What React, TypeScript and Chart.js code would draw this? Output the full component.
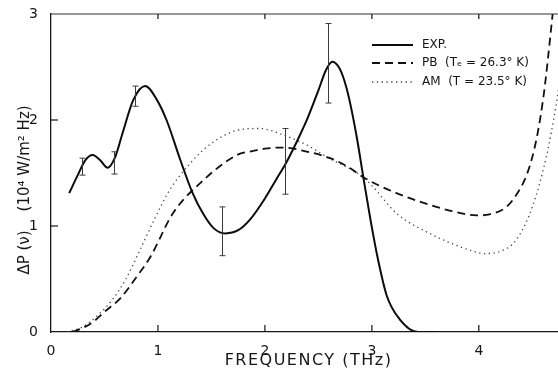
import React, { useEffect, useRef } from "react";
import { Chart, registerables } from "chart.js";

Chart.register(...registerables);

// ---- data ----
const xTickValues = [0, 1, 2, 3, 4];
const yTickValues = [0, 1, 2, 3];

const expX = [0.17, 0.25, 0.32, 0.39, 0.46, 0.53, 0.6, 0.67, 0.77, 0.88, 0.99, 1.08, 1.21, 1.32, 1.42, 1.52, 1.63, 1.75, 1.86, 2.0, 2.1, 2.2, 2.3, 2.4, 2.5, 2.57, 2.63, 2.69, 2.74, 2.79, 2.86, 2.92, 2.98, 3.05, 3.14, 3.26, 3.43, 3.6];
const expY = [1.31, 1.48, 1.62, 1.67, 1.62, 1.55, 1.65, 1.88, 2.19, 2.32, 2.19, 2.0, 1.62, 1.32, 1.12, 0.98, 0.93, 0.96, 1.06, 1.26, 1.43, 1.6, 1.8, 2.02, 2.28, 2.47, 2.55, 2.5, 2.38, 2.19, 1.83, 1.46, 1.1, 0.72, 0.34, 0.12, 0.0, 0.0];

const pbX = [0.2, 0.3, 0.4, 0.5, 0.65, 0.8, 0.93, 1.14, 1.39, 1.74, 1.9, 2.0, 2.17, 2.4, 2.61, 2.79, 2.92, 3.23, 3.54, 3.75, 3.98, 4.1, 4.32, 4.5, 4.6, 4.69, 4.74];
const pbY = [0.0, 0.04, 0.1, 0.19, 0.32, 0.52, 0.71, 1.12, 1.4, 1.67, 1.71, 1.73, 1.74, 1.7, 1.64, 1.55, 1.46, 1.31, 1.2, 1.14, 1.1, 1.11, 1.25, 1.65, 2.19, 3.0, 3.5];

const amX = [0.15, 0.3, 0.45, 0.57, 0.7, 0.83, 0.97, 1.11, 1.3, 1.5, 1.77, 1.95, 2.17, 2.4, 2.58, 2.92, 3.01, 3.23, 3.54, 3.92, 4.05, 4.2, 4.35, 4.5, 4.63, 4.73, 4.8];
const amY = [0.0, 0.05, 0.17, 0.3, 0.5, 0.77, 1.07, 1.34, 1.59, 1.78, 1.91, 1.92, 1.86, 1.76, 1.65, 1.46, 1.37, 1.12, 0.93, 0.77, 0.74, 0.76, 0.87, 1.18, 1.65, 2.19, 2.7];

const errX = [0.29, 0.59, 0.785, 1.6, 2.19, 2.59];
const errLow = [1.48, 1.49, 2.13, 0.72, 1.3, 2.16];
const errHigh = [1.64, 1.7, 2.32, 1.18, 1.92, 2.91];

const seriesLabels = ["EXP.", "PB  (Tₑ = 26.3° K)", "AM  (T = 23.5° K)"];
const xTitle = "FREQUENCY (THz)";
const yTitle = "ΔP (ν)    (10⁴ W/m² Hz)";

const FONT = "'DejaVu Sans', 'Liberation Sans', sans-serif";
const INK = "#161616";

const toPoints = (xs: number[], ys: number[]) => xs.map((x, i) => ({ x, y: ys[i] }));

const framePlugin = {
  id: "frameAndExtras",
  afterDatasetsDraw(chart: any) {
    const { ctx, chartArea, scales } = chart;
    const xs = scales.x;
    const ys = scales.y;
    ctx.save();
    // error bars
    ctx.strokeStyle = "#3a3a3a";
    ctx.lineWidth = 1;
    for (let i = 0; i < errX.length; i++) {
      const px = Math.round(xs.getPixelForValue(errX[i])) + 0.5;
      const pLo = ys.getPixelForValue(errLow[i]);
      const pHi = ys.getPixelForValue(errHigh[i]);
      ctx.beginPath();
      ctx.moveTo(px, pLo);
      ctx.lineTo(px, pHi);
      ctx.moveTo(px - 3, pLo);
      ctx.lineTo(px + 3, pLo);
      ctx.moveTo(px - 3, pHi);
      ctx.lineTo(px + 3, pHi);
      ctx.stroke();
    }
    // top frame line
    ctx.strokeStyle = "#333";
    ctx.lineWidth = 1.2;
    ctx.beginPath();
    ctx.moveTo(chartArea.left, chartArea.top);
    ctx.lineTo(chartArea.right, chartArea.top);
    ctx.stroke();
    // inward ticks
    ctx.strokeStyle = INK;
    ctx.lineWidth = 1.2;
    xTickValues.slice(1).forEach((v) => {
      const px = xs.getPixelForValue(v);
      ctx.beginPath();
      ctx.moveTo(px, chartArea.bottom);
      ctx.lineTo(px, chartArea.bottom - 7);
      ctx.moveTo(px, chartArea.top);
      ctx.lineTo(px, chartArea.top + 5);
      ctx.stroke();
    });
    yTickValues.slice(1, 3).forEach((v) => {
      const py = ys.getPixelForValue(v);
      ctx.beginPath();
      ctx.moveTo(chartArea.left, py);
      ctx.lineTo(chartArea.left + 7, py);
      ctx.stroke();
    });
    ctx.restore();
  },
  afterDraw(chart: any) {
    const { ctx, chartArea } = chart;
    ctx.save();
    // legend
    const lx0 = 372;
    const lx1 = 413;
    const rows = [45, 63, 82];
    chart.data.datasets.forEach((ds: any, i: number) => {
      ctx.strokeStyle = ds.borderColor;
      ctx.lineWidth = ds.borderWidth;
      ctx.setLineDash(ds.borderDash || []);
      ctx.beginPath();
      ctx.moveTo(lx0, rows[i]);
      ctx.lineTo(lx1, rows[i]);
      ctx.stroke();
      ctx.setLineDash([]);
      ctx.fillStyle = INK;
      ctx.font = "12px " + FONT;
      ctx.textAlign = "left";
      ctx.textBaseline = "middle";
      ctx.fillText(ds.label, 422, rows[i]);
    });
    // x title
    ctx.fillStyle = INK;
    ctx.font = "16px " + FONT;
    try { (ctx as any).letterSpacing = "1.5px"; } catch (e) {}
    ctx.textAlign = "center";
    ctx.textBaseline = "middle";
    ctx.fillText(xTitle, (chartArea.left + chartArea.right) / 2 + 4, 361);
    try { (ctx as any).letterSpacing = "0px"; } catch (e) {}
    // y title
    ctx.translate(25, 190);
    ctx.rotate(-Math.PI / 2);
    ctx.font = "15px " + FONT;
    ctx.fillText(yTitle, 0, 0);
    ctx.restore();
  },
};

export default function App() {
  const ref = useRef<HTMLCanvasElement | null>(null);
  useEffect(() => {
    if (!ref.current) return;
    const chart = new Chart(ref.current, {
      type: "line",
      data: {
        datasets: [
          {
            label: seriesLabels[0],
            data: toPoints(expX, expY),
            borderColor: "#0c0c0c",
            borderWidth: 2,
            pointRadius: 0,
            cubicInterpolationMode: "monotone",
          },
          {
            label: seriesLabels[1],
            data: toPoints(pbX, pbY),
            borderColor: "#111",
            borderWidth: 1.8,
            borderDash: [8, 5],
            pointRadius: 0,
            cubicInterpolationMode: "monotone",
          },
          {
            label: seriesLabels[2],
            data: toPoints(amX, amY),
            borderColor: "#444",
            borderWidth: 1.3,
            borderDash: [1.3, 3.5],
            pointRadius: 0,
            cubicInterpolationMode: "monotone",
          },
        ],
      },
      options: {
        responsive: false,
        maintainAspectRatio: false,
        animation: false,
        layout: { padding: { top: 14, left: 0, right: 0, bottom: 0 } },
        plugins: {
          legend: { display: false },
          tooltip: { enabled: false },
          title: { display: false },
        },
        scales: {
          x: {
            type: "linear",
            min: 0,
            max: 4.74,
            afterBuildTicks: (s: any) => {
              s.ticks = xTickValues.map((v) => ({ value: v }));
            },
            afterFit: (s: any) => {
              s.height = 40;
            },
            grid: { display: false },
            border: { display: true, color: INK, width: 1.3 },
            ticks: {
              color: INK,
              font: { family: FONT, size: 14 },
              padding: 3,
              maxRotation: 0,
              autoSkip: false,
            },
          },
          y: {
            type: "linear",
            min: 0,
            max: 3,
            afterBuildTicks: (s: any) => {
              s.ticks = yTickValues.map((v) => ({ value: v }));
            },
            afterFit: (s: any) => {
              s.width = 51;
            },
            grid: { display: false },
            border: { display: true, color: INK, width: 1.3 },
            ticks: {
              color: INK,
              font: { family: FONT, size: 14 },
              padding: 5,
              autoSkip: false,
            },
          },
        },
      },
      plugins: [framePlugin],
    });
    return () => chart.destroy();
  }, []);
  return (
    <div style={{ position: "fixed", left: 0, top: 0, width: 558, height: 372, background: "#fff" }}>
      <canvas ref={ref} width={558} height={372} style={{ display: "block" }} />
    </div>
  );
}
